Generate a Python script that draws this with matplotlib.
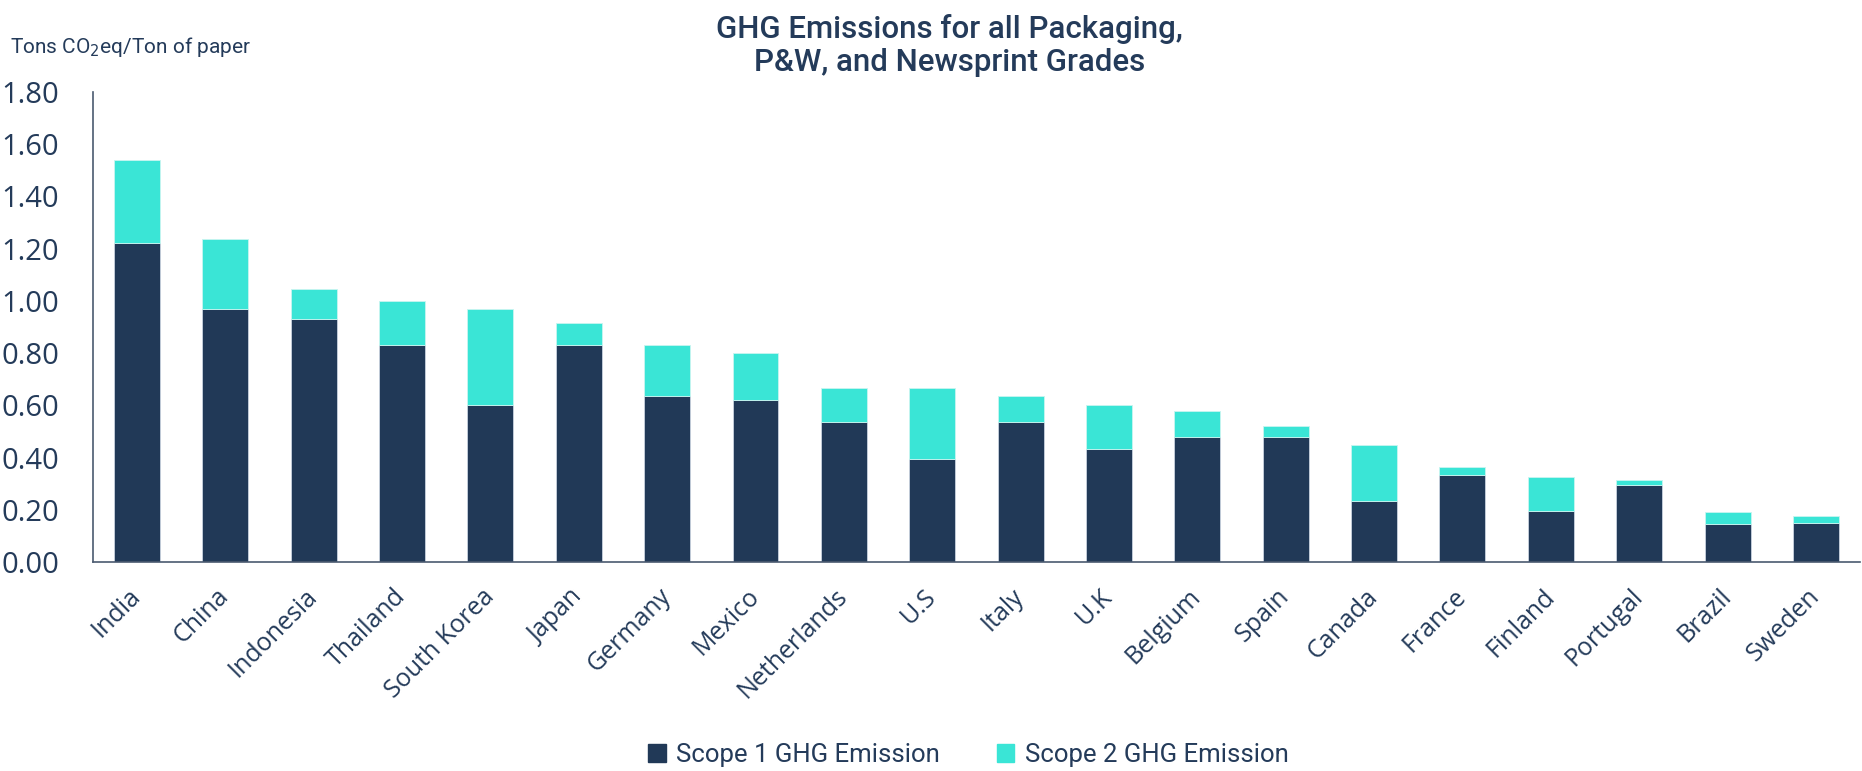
import matplotlib
matplotlib.use("Agg")
import matplotlib.pyplot as plt
from matplotlib.patches import Patch
import numpy

countries = ["India", "China", "Indonesia", "Thailand", "South Korea", "Japan",
             "Germany", "Mexico", "Netherlands", "U.S", "Italy", "U.K",
             "Belgium", "Spain", "Canada", "France", "Finland", "Portugal",
             "Brazil", "Sweden"]
scope1 = [1.22, 0.97, 0.93, 0.83, 0.60, 0.83, 0.635, 0.62, 0.535, 0.395,
          0.535, 0.435, 0.48, 0.48, 0.235, 0.335, 0.197, 0.297, 0.145, 0.152]
scope2 = [0.32, 0.265, 0.115, 0.17, 0.37, 0.085, 0.195, 0.18, 0.13, 0.27,
          0.10, 0.165, 0.10, 0.04, 0.215, 0.03, 0.13, 0.016, 0.047, 0.025]
yticks = [0.0, 0.2, 0.4, 0.6, 0.8, 1.0, 1.2, 1.4, 1.6, 1.8]

navy = "#213957"
teal = "#3AE5D6"
text_col = "#243B5A"
axis_col = "#4A5A70"

fig = plt.figure(figsize=(18.62, 7.71), dpi=100)
ax = fig.add_axes([0.0498, 0.2707, 0.9492, 0.6103])

x = numpy.arange(len(countries))
ax.bar(x, scope1, width=0.52, color=navy, edgecolor="#c9d3df", linewidth=0.6,
       label="Scope 1 GHG Emission")
ax.bar(x, scope2, width=0.52, bottom=scope1, color=teal, edgecolor="#c9f5f0",
       linewidth=0.6, label="Scope 2 GHG Emission")

ax.set_xlim(-0.5, len(countries) - 0.5)
ax.set_ylim(0, 1.8)
ax.set_yticks(yticks)
ax.set_yticklabels(["%.2f" % v for v in yticks], fontsize=21,
                   family="Open Sans", color=text_col)
ax.set_xticks(x)
ax.set_xticklabels(countries, rotation=45, ha="right", va="center",
                   rotation_mode="anchor", fontsize=18, family="Open Sans",
                   color=text_col)
ax.tick_params(axis="y", length=0, pad=24)
ax.tick_params(axis="x", length=0, pad=22)

for side in ["top", "right"]:
    ax.spines[side].set_visible(False)
for side in ["left", "bottom"]:
    ax.spines[side].set_color(axis_col)
    ax.spines[side].set_linewidth(1.2)

fig.text(0.51, 0.982, "GHG Emissions for all Packaging,\nP&W, and Newsprint Grades",
         ha="center", va="top", fontsize=22.5, family="Roboto", fontweight="medium",
         color=text_col, linespacing=1.2)
fig.text(0.0055, 0.939, "Tons CO$_2$eq/Ton of paper", ha="left", va="center",
         fontsize=15, family="Roboto", color=text_col)

handles = [Patch(color=navy), Patch(color=teal)]
fig.legend(handles, ["Scope 1 GHG Emission", "Scope 2 GHG Emission"],
           loc="center", bbox_to_anchor=(0.52, 0.021), ncol=2, frameon=False,
           handlelength=0.7, handleheight=0.7, handletextpad=0.4,
           columnspacing=2.2, prop={"family": "Roboto", "size": 18.5},
           labelcolor=text_col)

plt.savefig("out.png", dpi=100)
